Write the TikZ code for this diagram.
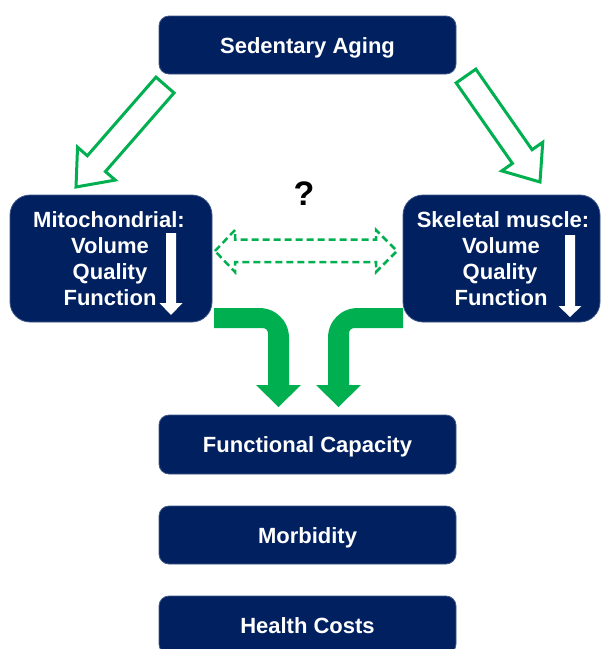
\documentclass[tikz,border=0pt]{standalone}
\usepackage{fontspec}
\setmainfont{Liberation Sans}
\usetikzlibrary{calc}
\definecolor{navy}{RGB}{0,32,96}
\definecolor{pgreen}{RGB}{0,176,80}
\begin{document}
\begin{tikzpicture}[x=1pt,y=-1pt,
  box/.style={fill=navy, draw=navy!75!white, line width=0.8pt, rounded corners=10pt,
    text=white, font=\fontsize{22}{26}\selectfont\bfseries, text height=16pt, text depth=0pt},
  bigbox/.style={box, rounded corners=20pt},
  lbl/.style={text=white, font=\fontsize{22}{26}\selectfont\bfseries, anchor=base, inner sep=0pt},
  hollow/.style={draw=pgreen, fill=white, line width=3pt, line join=miter},
  bent/.style={fill=pgreen},
  dashedarrow/.style={draw=pgreen, line width=2.5pt, dash pattern=on 7pt off 4pt},
  downarrow/.style={fill=white}]
\clip (0,0) rectangle (601,649);
\fill[white] (0,0) rectangle (601,649);

% boxes
\node[box, minimum width=297pt, minimum height=58pt] (sed) at (307.5,45) {Sedentary Aging};
\node[bigbox, minimum width=202pt, minimum height=127pt] (mito) at (111,258.5) {};
\node[bigbox, minimum width=197pt, minimum height=127pt] (skel) at (501.5,258.5) {};
\node[box, minimum width=297pt, minimum height=59pt] (fc) at (307.5,444.5) {Functional Capacity};
\node[box, minimum width=297pt, minimum height=58pt] (morb) at (307.5,535) {Morbidity};
\node[box, minimum width=297pt, minimum height=58pt] (hc) at (307.5,625) {Health Costs};

% texts in side boxes
\node[lbl] (m1) at (109,227) {Mitochondrial:};
\node[lbl] (m2) at (110,253.5) {Volume};
\node[lbl] (m3) at (110,279.5) {Quality};
\node[lbl] (m4) at (110,305) {Function};
\node[lbl] (s1) at (503,227) {Skeletal muscle:};
\node[lbl] (s2) at (501,253.5) {Volume};
\node[lbl] (s3) at (500,279.5) {Quality};
\node[lbl] (s4) at (501,305) {Function};

% white down arrows
\fill[downarrow] (166,233) -- (176,233) -- (176,303) -- (182.5,303) -- (171,315) -- (159.5,303) -- (166,303) -- cycle;
\fill[downarrow] (565,235) -- (575,235) -- (575,306) -- (581.5,306) -- (570,317) -- (558.5,306) -- (565,306) -- cycle;

% question mark
\node[font=\fontsize{34}{34}\selectfont\bfseries, anchor=base, inner sep=0pt] (q) at (304,205) {?};

% hollow arrows
\coordinate (lt) at (165,85); \coordinate (lp) at (76,187);
\coordinate (lb) at ($(lp)!31pt!(lt)$);
\draw[hollow] ($(lt)!12pt!90:(lp)$) -- ($(lb)!12pt!90:(lp)$) -- ($(lb)!25pt!90:(lp)$) -- (lp)
  -- ($(lb)!25pt!-90:(lp)$) -- ($(lb)!12pt!-90:(lp)$) -- ($(lt)!12pt!-90:(lp)$) -- cycle;
\coordinate (rt) at (466,76); \coordinate (rp) at (540,182);
\coordinate (rb) at ($(rp)!31pt!(rt)$);
\draw[hollow] ($(rt)!12pt!90:(rp)$) -- ($(rb)!12pt!90:(rp)$) -- ($(rb)!25pt!90:(rp)$) -- (rp)
  -- ($(rb)!25pt!-90:(rp)$) -- ($(rb)!12pt!-90:(rp)$) -- ($(rt)!12pt!-90:(rp)$) -- cycle;

% dashed double arrow
\draw[dashedarrow] (215,251) -- (235,230) -- (235,239.5) -- (376,239.5) -- (376,230) -- (397,251)
  -- (376,272) -- (376,262) -- (235,262) -- (235,272) -- cycle;

% bent arrows
\fill[bent] (214,308) -- (259,308) .. controls (276,308) and (289,321) .. (289,338) -- (289,385)
  -- (301,385) -- (278.5,407) -- (256,385) -- (268,385) -- (268,334)
  .. controls (268,330) and (266,328) .. (262,328) -- (214,328) -- cycle;
\fill[bent] (403,308) -- (358,308) .. controls (341,308) and (328,321) .. (328,338) -- (328,385)
  -- (316,385) -- (338.5,407) -- (361,385) -- (349,385) -- (349,334)
  .. controls (349,330) and (351,328) .. (355,328) -- (403,328) -- cycle;
\end{tikzpicture}
\end{document}
